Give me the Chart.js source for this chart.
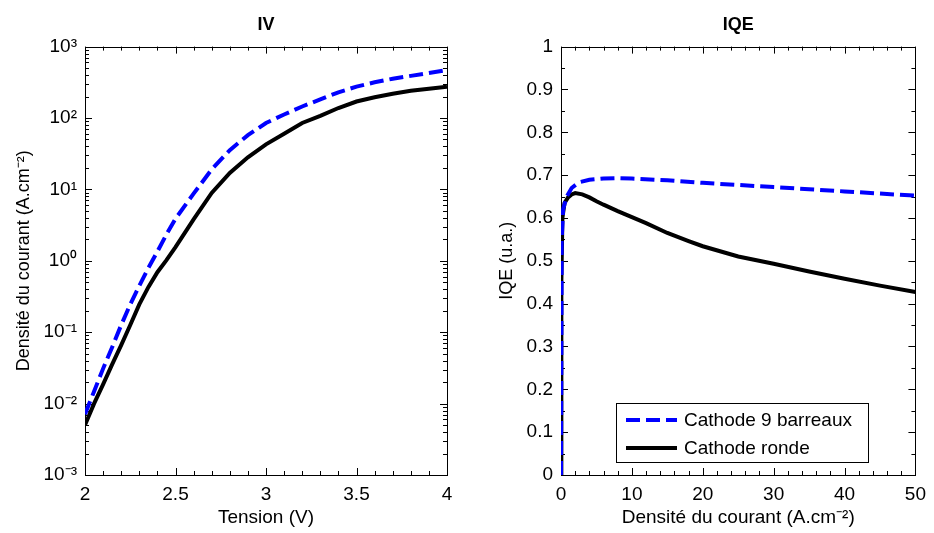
<!DOCTYPE html>
<html><head><meta charset="utf-8">
<script src="https://cdn.jsdelivr.net/npm/chart.js@4.4.1/dist/chart.umd.min.js"></script>
<style>
html,body{margin:0;padding:0;background:#fff;}
#wrap{position:relative;width:934px;height:533px;background:#fff;}
.c{position:absolute;top:0;width:467px;height:533px;}
</style></head><body>
<div id="wrap">
<div class="c" style="left:0"><canvas id="iv" width="467" height="533"></canvas></div>
<div class="c" style="left:467px"><canvas id="iqe" width="467" height="533"></canvas></div>
</div>
<script>
// ---- Data ----
const IV_VOLTAGE = [2.0,2.05,2.1,2.15,2.2,2.25,2.3,2.35,2.4,2.45,2.5,2.6,2.7,2.8,2.9,3.0,3.1,3.2,3.3,3.4,3.5,3.6,3.7,3.8,3.9,4.0];
const IV_BARREAUX = [0.0071,0.0148,0.0309,0.0617,0.126,0.245,0.447,0.794,1.35,2.34,3.89,8.71,19.1,35.5,57.5,85.1,112,145,182,229,275,316,355,389,427,468];
const IV_RONDE = [0.0050,0.0100,0.0186,0.0355,0.0661,0.126,0.245,0.427,0.692,1.02,1.55,3.80,8.91,17.0,28.2,42.7,60.3,85.1,107,138,170,195,219,240,257,275];

const IQE_J_BARREAUX = [0,0.1,0.3,0.8,1.5,2.5,4,6,8,10,15,20,25,30,35,40,45,50];
const IQE_BARREAUX = [0,0.55,0.62,0.65,0.67,0.683,0.689,0.692,0.693,0.692,0.688,0.682,0.677,0.672,0.667,0.662,0.657,0.652];
const IQE_J_RONDE = [0,0.05,0.2,0.5,1,1.5,2,3,4,5,6,8,10,12,15,18,20,25,30,35,40,45,50];
const IQE_RONDE = [0,0.45,0.6,0.635,0.648,0.655,0.658,0.655,0.648,0.639,0.631,0.616,0.602,0.588,0.565,0.546,0.534,0.51,0.493,0.475,0.458,0.442,0.427];

const IV_Y_TICKS = [1e-3,1e-2,1e-1,1,10,100,1000];
const IV_Y_TICK_LABELS = ['10⁻³','10⁻²','10⁻¹','10⁰','10¹','10²','10³'];

const SERIES_LABELS = ['Cathode 9 barreaux','Cathode ronde'];
const TITLES = ['IV','IQE'];
const X_TITLES = ['Tension (V)','Densité du courant (A.cm⁻²)'];
const Y_TITLES = ['Densité du courant (A.cm⁻²)','IQE (u.a.)'];

// ---- Styles ----
const FONT = '"Liberation Sans", Arial, sans-serif';
const BLUE = '#0000ff';
const DASH = [14, 6];
const LW = 4;

const pts = (xs, ys) => xs.map((x, i) => ({x, y: ys[i]}));

const boxTicks = {
  id: 'boxTicks',
  beforeDatasetsDraw(chart, args, o) {
    const {ctx, chartArea: a} = chart;
    const xs = chart.scales.x, ys = chart.scales.y;
    ctx.save();
    ctx.strokeStyle = '#000';
    ctx.lineWidth = 1;
    ctx.beginPath();
    const seg = (x1, y1, x2, y2) => { ctx.moveTo(x1, y1); ctx.lineTo(x2, y2); };
    const xTick = (v, len) => {
      const p = Math.round(xs.getPixelForValue(v)) + 0.5;
      seg(p, a.bottom, p, a.bottom - len); seg(p, a.top, p, a.top + len);
    };
    const yTick = (v, len) => {
      const p = Math.round(ys.getPixelForValue(v)) + 0.5;
      seg(a.left, p, a.left + len, p); seg(a.right, p, a.right - len, p);
    };
    xs.ticks.forEach(t => xTick(t.value, o.major));
    ys.ticks.forEach(t => yTick(t.value, o.major));
    const eps = 1e-9;
    for (let v = xs.min; v <= xs.max + eps; v += o.xMinor) {
      if (!xs.ticks.some(t => Math.abs(t.value - v) < 1e-6)) xTick(v, o.minor);
    }
    if (o.logY) {
      for (let e = Math.log10(ys.min); e < Math.log10(ys.max) - eps; e++) {
        for (let m = 2; m <= 9; m++) yTick(m * Math.pow(10, e), o.minor);
      }
    } else {
      for (let v = ys.min; v <= ys.max + eps; v += o.yMinor) {
        if (!ys.ticks.some(t => Math.abs(t.value - v) < 1e-6)) yTick(v, o.minor);
      }
    }
    ctx.stroke();
    ctx.strokeRect(Math.round(a.left) + 0.5, Math.round(a.top) + 0.5, Math.round(a.right - a.left), Math.round(a.bottom - a.top));
    ctx.restore();
  }
};

const boxLegend = {
  id: 'boxLegend',
  afterDraw(chart, args, o) {
    if (!o.show) return;
    const {ctx, chartArea: a} = chart;
    const x0 = a.left + 55, y0 = 403, w = 252, h = 59;
    ctx.save();
    ctx.fillStyle = '#fff';
    ctx.fillRect(x0, y0, w, h);
    ctx.strokeStyle = '#000';
    ctx.lineWidth = 1;
    ctx.strokeRect(x0 + 0.5, y0 + 0.5, w, h);
    ctx.font = '19px ' + FONT;
    ctx.textBaseline = 'middle';
    ctx.fillStyle = '#000';
    chart.data.datasets.forEach((ds, i) => {
      const yy = y0 + 17 + i * 28;
      ctx.beginPath();
      ctx.strokeStyle = ds.borderColor;
      ctx.lineWidth = ds.borderWidth;
      ctx.lineCap = 'butt';
      ctx.setLineDash(ds.borderDash || []);
      ctx.moveTo(x0 + 10, yy);
      ctx.lineTo(x0 + 61, yy);
      ctx.stroke();
      ctx.setLineDash([]);
      ctx.fillText(ds.label, x0 + 68, yy + 1);
    });
    ctx.restore();
  }
};

function makeOptions(cfg) {
  return {
    responsive: false,
    animation: false,
    layout: {padding: {left: 0, right: cfg.padRight, top: 0, bottom: 0}},
    plugins: {
      legend: {display: false},
      tooltip: {enabled: false},
      title: {
        display: true, text: cfg.title, color: '#000', fullSize: false,
        font: {family: FONT, size: 18, weight: 'bold'},
        padding: {top: 14, bottom: 11}
      },
      boxTicks: cfg.ticks,
      boxLegend: {show: cfg.legend}
    },
    scales: {
      x: {
        type: 'linear', min: cfg.xMin, max: cfg.xMax,
        grid: {display: false, drawTicks: false},
        border: {display: false},
        ticks: {stepSize: cfg.xStep, color: '#000', padding: 8, maxRotation: 0,
          font: {family: FONT, size: 19},
          callback: v => String(Number(v.toFixed(2)))},
        title: {display: true, text: cfg.xTitle, color: '#000',
          font: {family: FONT, size: 19}, padding: {top: 0, bottom: 4}},
        afterFit: s => { s.height = 58; }
      },
      y: cfg.y
    }
  };
}

// ---- IV chart ----
new Chart(document.getElementById('iv'), {
  type: 'line',
  data: {
    datasets: [
      {label: SERIES_LABELS[0], data: pts(IV_VOLTAGE, IV_BARREAUX), borderColor: BLUE, borderWidth: LW, borderDash: DASH, borderCapStyle: 'butt', pointRadius: 0, tension: 0, fill: false},
      {label: SERIES_LABELS[1], data: pts(IV_VOLTAGE, IV_RONDE), borderColor: '#000', borderWidth: LW, borderCapStyle: 'butt', pointRadius: 0, tension: 0, fill: false}
    ]
  },
  options: makeOptions({
    padRight: 20, title: TITLES[0], xTitle: X_TITLES[0], xMin: 2, xMax: 4, xStep: 0.5, legend: false,
    ticks: {major: 7, minor: 4, xMinor: 0.1, logY: true},
    y: {
      type: 'logarithmic', min: 1e-3, max: 1e3,
      grid: {display: false, drawTicks: false},
      border: {display: false},
      afterBuildTicks: s => { s.ticks = IV_Y_TICKS.map(v => ({value: v, major: true})); },
      ticks: {color: '#000', padding: 8, font: {family: FONT, size: 19},
        callback: (v, i) => IV_Y_TICK_LABELS[IV_Y_TICKS.indexOf(v)] ?? ''},
      title: {display: true, text: Y_TITLES[0], color: '#000',
        font: {family: FONT, size: 18}, padding: {top: 13, bottom: 0}},
      afterFit: s => { s.width = 85; }
    }
  }),
  plugins: [boxTicks, boxLegend]
});

// ---- IQE chart ----
new Chart(document.getElementById('iqe'), {
  type: 'line',
  data: {
    datasets: [
      {label: SERIES_LABELS[0], data: pts(IQE_J_BARREAUX, IQE_BARREAUX), borderColor: BLUE, borderWidth: LW, borderDash: DASH, borderCapStyle: 'butt', pointRadius: 0, tension: 0, fill: false},
      {label: SERIES_LABELS[1], data: pts(IQE_J_RONDE, IQE_RONDE), borderColor: '#000', borderWidth: LW, borderCapStyle: 'butt', pointRadius: 0, tension: 0, fill: false}
    ]
  },
  options: makeOptions({
    padRight: 12, title: TITLES[1], xTitle: X_TITLES[1], xMin: 0, xMax: 50, xStep: 10, legend: true,
    ticks: {major: 7, minor: 4, xMinor: 2, yMinor: 0.05, logY: false},
    y: {
      type: 'linear', min: 0, max: 1,
      grid: {display: false, drawTicks: false},
      border: {display: false},
      ticks: {stepSize: 0.1, color: '#000', padding: 8, font: {family: FONT, size: 19},
        callback: v => String(Number(v.toFixed(1)))},
      title: {display: true, text: Y_TITLES[1], color: '#000',
        font: {family: FONT, size: 18}, padding: {top: 29, bottom: 0}},
      afterFit: s => { s.width = 94; }
    }
  }),
  plugins: [boxTicks, boxLegend]
});
</script>
</body></html>
